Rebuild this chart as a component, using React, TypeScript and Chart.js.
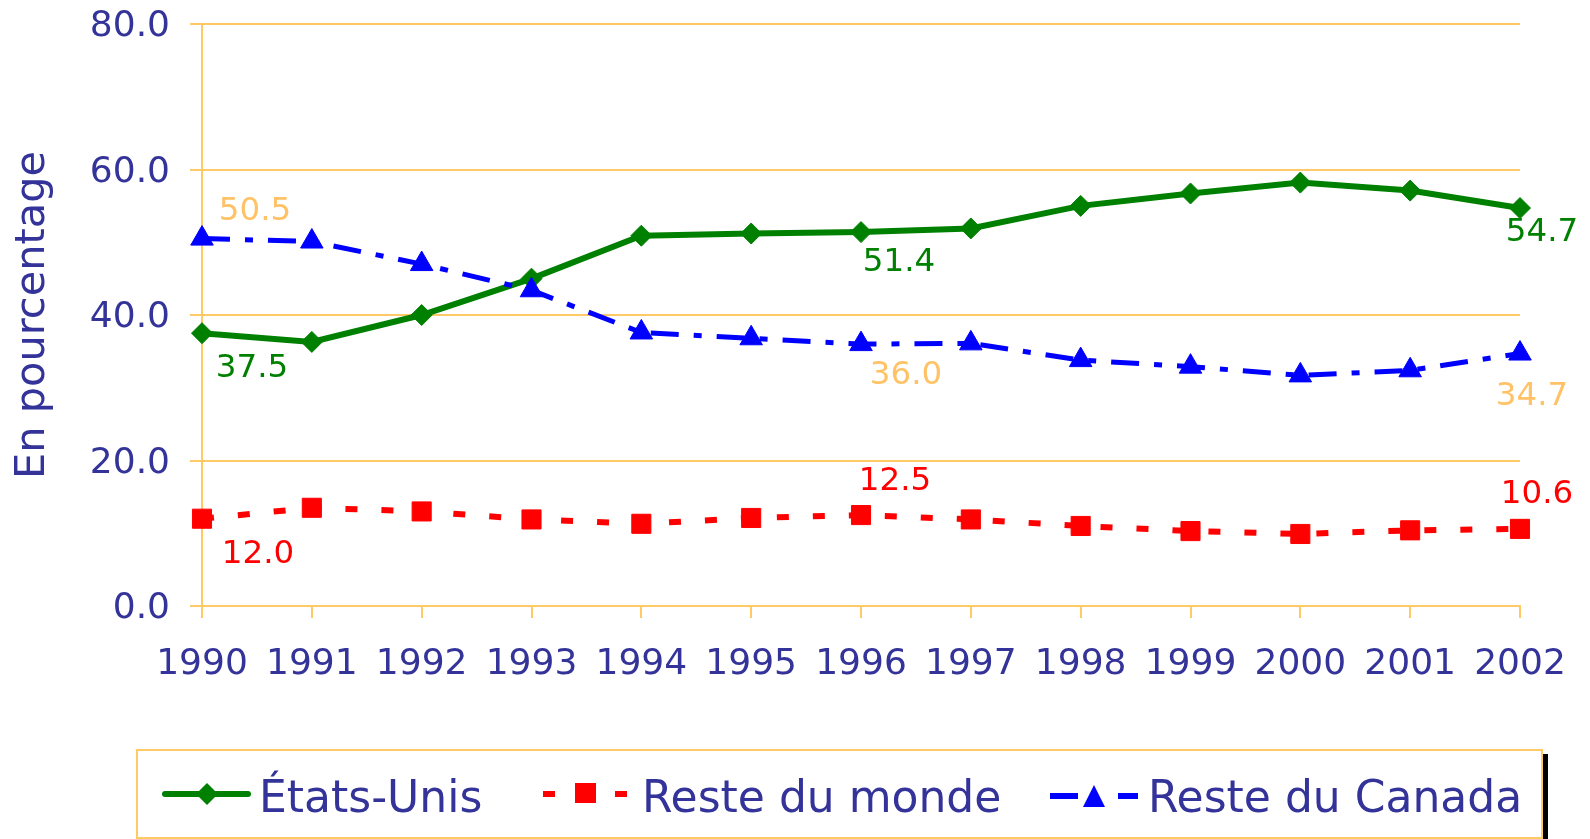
import React, { useEffect, useRef } from "react";
import { Chart, registerables } from "chart.js";

Chart.register(...registerables);

// ---- Data ----
const years = ["1990", "1991", "1992", "1993", "1994", "1995", "1996", "1997", "1998", "1999", "2000", "2001", "2002"];
const etatsUnis = [37.5, 36.3, 40.0, 45.0, 50.9, 51.2, 51.4, 51.9, 55.0, 56.7, 58.2, 57.1, 54.7];
const resteMonde = [12.0, 13.5, 13.0, 11.9, 11.3, 12.1, 12.5, 11.9, 11.0, 10.3, 9.9, 10.4, 10.6];
const resteCanada = [50.5, 50.1, 47.0, 43.4, 37.6, 36.8, 36.0, 36.1, 33.8, 32.9, 31.7, 32.4, 34.7];
const seriesNames = ["États-Unis", "Reste du monde", "Reste du Canada"];
const yAxisTitle = "En pourcentage";
const yMin = 0;
const yMax = 80;
const yStep = 20;

// ---- Styles ----
const FONT = "'DejaVu Sans', Verdana, sans-serif";
const AXIS = "#333399";
const ORANGE = "#FFC966";
const LABEL_ORANGE = "#FFC266";
const GREEN = "#008000";
const RED = "#FF0000";
const BLUE = "#0000FF";

// data label placement (series index, point index, dx, dy of text centre, colour)
const labelSpecs = [
  { s: 0, i: 0, dx: 50, dy: 32, c: GREEN },
  { s: 0, i: 6, dx: 38, dy: 27, c: GREEN },
  { s: 0, i: 12, dx: 22, dy: 21, c: GREEN },
  { s: 1, i: 0, dx: 56, dy: 32, c: RED },
  { s: 1, i: 6, dx: 34, dy: -37, c: RED },
  { s: 1, i: 12, dx: 17, dy: -38, c: RED },
  { s: 2, i: 0, dx: 53, dy: -30, c: LABEL_ORANGE },
  { s: 2, i: 6, dx: 45, dy: 28, c: LABEL_ORANGE },
  { s: 2, i: 12, dx: 12, dy: 40, c: LABEL_ORANGE },
];

const dataLabelPlugin = {
  id: "dataLabels",
  afterDatasetsDraw(chart: any) {
    const ctx = chart.ctx;
    ctx.save();
    const size = 32.5;
    ctx.font = `${size}px ${FONT}`;
    ctx.textAlign = "center";
    ctx.textBaseline = "alphabetic";
    for (const l of labelSpecs) {
      const meta = chart.getDatasetMeta(l.s);
      const pt = meta.data[l.i];
      const v = chart.data.datasets[l.s].data[l.i] as number;
      ctx.fillStyle = l.c;
      ctx.fillText(v.toFixed(1), pt.x + l.dx, pt.y + l.dy + (0.729 * size) / 2);
    }
    ctx.restore();
  },
};

const legendPlugin = {
  id: "customLegend",
  afterDraw(chart: any) {
    const ctx = chart.ctx;
    ctx.save();
    // shadow
    ctx.fillStyle = "#000";
    ctx.fillRect(1543, 754, 5, 90);
    // box
    ctx.fillStyle = "#fff";
    ctx.fillRect(137, 750, 1405, 88);
    ctx.strokeStyle = ORANGE;
    ctx.lineWidth = 2;
    ctx.strokeRect(137, 750, 1405, 88);

    // symbol 1: green line + diamond
    ctx.strokeStyle = GREEN;
    ctx.lineWidth = 6;
    ctx.lineCap = "round";
    ctx.beginPath();
    ctx.moveTo(165, 794);
    ctx.lineTo(248, 794);
    ctx.stroke();
    ctx.fillStyle = GREEN;
    ctx.beginPath();
    ctx.moveTo(207, 783);
    ctx.lineTo(218, 794);
    ctx.lineTo(207, 805);
    ctx.lineTo(196, 794);
    ctx.closePath();
    ctx.fill();

    // symbol 2: red dashes + square
    ctx.fillStyle = RED;
    ctx.fillRect(543, 791, 12, 6);
    ctx.fillRect(575, 783, 21, 20);
    ctx.fillRect(615, 791, 12, 6);

    // symbol 3: blue dashes + triangle
    ctx.fillStyle = BLUE;
    ctx.fillRect(1050, 793, 28, 6);
    ctx.fillRect(1118, 793, 20, 6);
    ctx.beginPath();
    ctx.moveTo(1094, 785);
    ctx.lineTo(1105, 807);
    ctx.lineTo(1083, 807);
    ctx.closePath();
    ctx.fill();

    // text
    ctx.fillStyle = AXIS;
    ctx.font = `44px ${FONT}`;
    ctx.textAlign = "left";
    ctx.textBaseline = "alphabetic";
    const xs = [259, 642, 1148];
    chart.data.datasets.forEach((d: any, k: number) => {
      ctx.fillText(d.label, xs[k], 812);
    });
    ctx.restore();
  },
};

export default function App() {
  const ref = useRef<HTMLCanvasElement | null>(null);
  useEffect(() => {
    if (!ref.current) return;
    const chart = new Chart(ref.current, {
      type: "line",
      data: {
        labels: years,
        datasets: [
          {
            label: seriesNames[0],
            data: etatsUnis,
            borderColor: GREEN,
            backgroundColor: GREEN,
            borderWidth: 6,
            pointStyle: "rectRot",
            pointRadius: 10.5,
            pointBorderWidth: 1,
            pointBackgroundColor: GREEN,
            pointBorderColor: GREEN,
            tension: 0,
            order: 3,
          },
          {
            label: seriesNames[1],
            data: resteMonde,
            borderColor: RED,
            backgroundColor: RED,
            borderWidth: 6,
            borderDash: [12, 24],
            pointStyle: "rect",
            pointRadius: 13.5,
            pointBorderWidth: 1,
            pointBackgroundColor: RED,
            pointBorderColor: RED,
            tension: 0,
            order: 2,
          },
          {
            label: seriesNames[2],
            data: resteCanada,
            borderColor: BLUE,
            backgroundColor: BLUE,
            borderWidth: 5,
            borderDash: [28, 15, 8, 15],
            pointStyle: "triangle",
            pointRadius: 13,
            pointBorderWidth: 1,
            pointBackgroundColor: BLUE,
            pointBorderColor: BLUE,
            tension: 0,
            order: 1,
          },
        ],
      },
      options: {
        responsive: false,
        animation: false,
        maintainAspectRatio: false,
        layout: { padding: { top: 24, right: 70, bottom: 0, left: 0 } },
        plugins: {
          legend: { display: false },
          tooltip: { enabled: false },
          title: { display: false },
        },
        scales: {
          x: {
            type: "category",
            offset: false,
            grid: {
              display: true,
              drawOnChartArea: false,
              drawTicks: true,
              tickLength: 12,
              color: ORANGE,
              lineWidth: 2,
            },
            border: { display: true, color: ORANGE, width: 2 },
            ticks: {
              color: AXIS,
              font: { family: FONT, size: 36 },
              padding: 25,
              maxRotation: 0,
              autoSkip: false,
            },
            afterFit: (s: any) => {
              s.height = 233;
              s.paddingLeft = 0;
              s.paddingRight = 0;
            },
          },
          y: {
            min: yMin,
            max: yMax,
            grid: { color: ORANGE, lineWidth: 2, tickLength: 12, drawTicks: true },
            border: { display: true, color: ORANGE, width: 2 },
            ticks: {
              stepSize: yStep,
              color: AXIS,
              font: { family: FONT, size: 36 },
              padding: 20,
              labelOffset: 3,
              callback: (v: any) => Number(v).toFixed(1),
            },
            title: {
              display: true,
              text: yAxisTitle,
              color: AXIS,
              font: { family: FONT, size: 41.5 },
              padding: { top: 8, bottom: 0 },
            },
            afterFit: (s: any) => {
              s.width = 202;
              s.paddingTop = 0;
              s.paddingBottom = 0;
            },
          },
        },
      },
      plugins: [dataLabelPlugin, legendPlugin],
    });
    return () => chart.destroy();
  }, []);
  return (
    <div style={{ position: "absolute", left: 0, top: 0, width: 1590, height: 839, background: "#fff" }}>
      <canvas ref={ref} width={1590} height={839} style={{ display: "block" }} />
    </div>
  );
}
